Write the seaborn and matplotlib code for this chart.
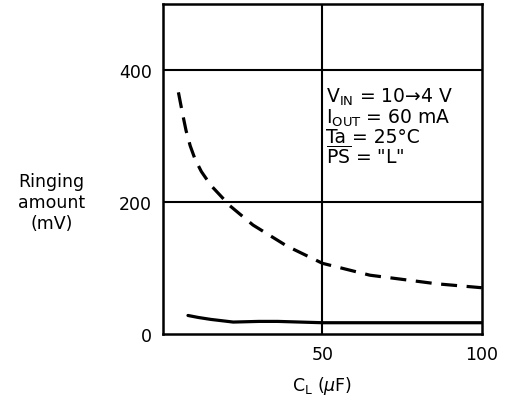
import numpy as np
import pandas as pd
import seaborn as sns
import matplotlib.pyplot as plt

# ringing amount vs load capacitance
cl_dash = [4.8, 6.0, 7.2, 8.5, 10.0, 12.0, 15.0, 21.0, 28.2, 38.9, 50.0, 64.9, 85.8, 100.0]
ring_dash = [366, 336, 308, 285, 265, 246, 225, 194, 165, 133, 107, 89, 76, 70]

cl_solid = [7.8, 11.0, 15.0, 22.0, 30.0, 36.0, 50.0, 70.0, 100.0]
ring_solid = [28, 25, 22, 18, 19, 19, 17, 17, 17]

yticks = [0, 200, 400]
xticks = [50, 100]

sns.set_style("white")
plt.rcParams['font.family'] = ['DejaVu Sans']
plt.rcParams['mathtext.fontset'] = 'dejavusans'
plt.rcParams['text.color'] = 'black'
plt.rcParams['xtick.color'] = 'black'
plt.rcParams['ytick.color'] = 'black'
plt.rcParams['axes.labelcolor'] = 'black'

fig = plt.figure(figsize=(5.05, 4.06), dpi=100)
ax = fig.add_axes([0.323, 0.175, 0.631, 0.813])

df_d = pd.DataFrame({'CL': cl_dash, 'ring': ring_dash})
df_s = pd.DataFrame({'CL': cl_solid, 'ring': ring_solid})

sns.lineplot(data=df_d, x='CL', y='ring', ax=ax, color='black', lw=2.3,
             estimator=None, sort=False)
ax.lines[-1].set_dashes((5, 3))
sns.lineplot(data=df_s, x='CL', y='ring', ax=ax, color='black', lw=2.3,
             estimator=None, sort=False)

ax.set_xlim(0, 100)
ax.set_ylim(0, 500)
ax.set_xticks(xticks)
ax.set_yticks(yticks)
ax.set_xticklabels([str(t) for t in xticks], fontsize=12.5)
ax.set_yticklabels([str(t) for t in yticks], fontsize=12.5)
ax.tick_params(length=0, pad=8)

for v in [50]:
    ax.axvline(v, color='black', lw=1.5)
for v in [200, 400]:
    ax.axhline(v, color='black', lw=1.5)
for s in ax.spines.values():
    s.set_color('black')
    s.set_linewidth(1.8)

ax.set_xlabel(r'C$_{\mathrm{L}}$ ($\mu$F)', fontsize=12.5, labelpad=8)
ax.set_ylabel('Ringing\namount\n(mV)', fontsize=12.5, rotation=0,
              ha='center', va='center', labelpad=40)
ax.yaxis.set_label_coords(-0.35, 0.40)

cond = (r'V$_{\mathrm{IN}}$ = 10→4 V' + '\n' +
        r'I$_{\mathrm{OUT}}$ = 60 mA' + '\n' +
        'Ta = 25°C' + '\n' +
        r'$\overline{\mathrm{PS}}$ = "L"')
ax.text(51, 376, cond, fontsize=13.5, va='top', ha='left', linespacing=0.95)

fig.savefig('out.png', dpi=100)
